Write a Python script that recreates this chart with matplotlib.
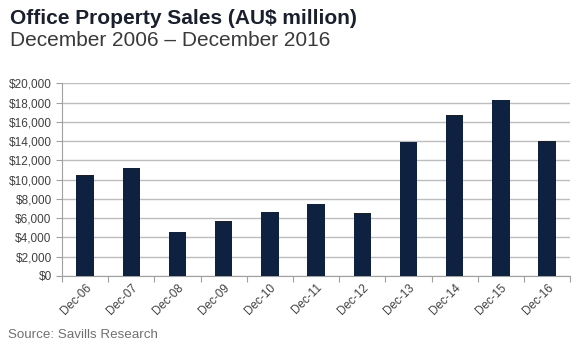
import matplotlib.pyplot as plt
from matplotlib.ticker import FuncFormatter, MultipleLocator

# Data
years = ["Dec-06", "Dec-07", "Dec-08", "Dec-09", "Dec-10", "Dec-11",
         "Dec-12", "Dec-13", "Dec-14", "Dec-15", "Dec-16"]
sales = [10450, 11200, 4530, 5670, 6640, 7470, 6540, 13880, 16680, 18300, 14010]

plt.rcParams["font.family"] = ["Liberation Sans", "DejaVu Sans"]

fig = plt.figure(figsize=(5.8, 3.52), dpi=100)
ax = fig.add_axes([0.107, 0.216, 0.876, 0.547])

x = list(range(len(years)))
ax.bar(x, sales, width=0.38, color="#0e2141", zorder=3)

ax.set_xlim(-0.5, len(years) - 0.5)
ax.set_ylim(0, 20000)
ax.yaxis.set_major_locator(MultipleLocator(2000))
ax.yaxis.set_major_formatter(FuncFormatter(lambda v, p: f"${v:,.0f}"))
ax.grid(axis="y", color="#bdbdbd", linewidth=1.0, zorder=0)

ax.set_xticks([i - 0.5 for i in range(len(years) + 1)], minor=False)
ax.set_xticklabels([])
ax.set_xticks(x, minor=True)
ax.set_xticklabels(years, minor=True, rotation=45, ha="right",
                   rotation_mode="anchor", fontsize=8.5, color="#404040")
ax.tick_params(axis="x", which="minor", length=0, pad=4)
ax.tick_params(axis="x", which="major", length=4, color="#a0a0a0", direction="out")
ax.tick_params(axis="y", length=4, color="#a0a0a0", labelsize=8.5, labelcolor="#404040")

for side in ["top", "right"]:
    ax.spines[side].set_visible(False)
ax.spines["left"].set_color("#a0a0a0")
ax.spines["bottom"].set_color("#a0a0a0")

fig.text(0.017, 0.947, "Office Property Sales (AU$ million)", fontsize=15,
         fontweight="bold", color="#1a1f2e", va="center")
fig.text(0.017, 0.886, "December 2006 \u2013 December 2016", fontsize=15,
         color="#3a3a3a", va="center")
fig.text(0.014, 0.048, "Source: Savills Research", fontsize=9.6,
         color="#707070", va="center")

fig.savefig("out.png", dpi=100)
